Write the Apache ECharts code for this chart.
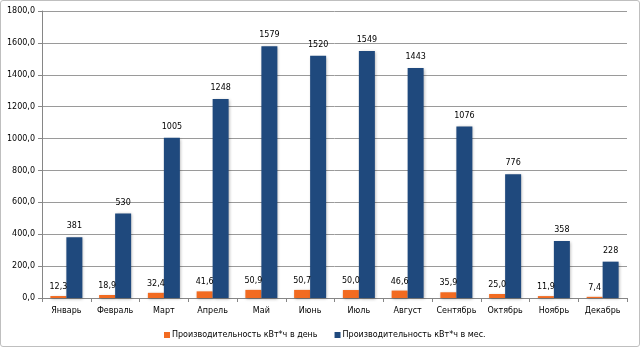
<!DOCTYPE html>
<html><head><meta charset="utf-8">
<script src="https://cdn.jsdelivr.net/npm/echarts@6/dist/echarts.min.js"></script>
<style>html,body{margin:0;padding:0;background:#fff}#c{width:640px;height:347px;box-sizing:border-box;border:1px solid #bfbfbf;border-radius:3px}</style>
</head><body><div id="c"></div>
<script>
const categories = ['Январь','Февраль','Март','Апрель','Май','Июнь','Июль','Август','Сентябрь','Октябрь','Ноябрь','Декабрь'];
const perDay = [12.3,18.9,32.4,41.6,50.9,50.7,50.0,46.6,35.9,25.0,11.9,7.4];
const perMonth = [381,530,1005,1248,1579,1520,1549,1443,1076,776,358,228];
const seriesNames = ['Производительность кВт*ч в день','Производительность кВт*ч в мес.'];
const font = 'DejaVu Sans';
const chart = echarts.init(document.getElementById('c'));
chart.setOption({
  animation:false,
  textStyle:{fontFamily:font},
  grid:{left:41,right:12,top:10,bottom:48,containLabel:false,outerBoundsMode:'none'},
  legend:{top:325,left:158,itemWidth:6,itemHeight:6,itemGap:17,icon:'rect',
    textStyle:{fontFamily:font,fontSize:8,color:'#000',padding:[0,0,0,-3]},data:seriesNames},
  xAxis:{type:'category',data:categories,
    axisLine:{lineStyle:{color:'#868686'}},
    axisTick:{show:true,length:4,lineStyle:{color:'#868686'}},
    axisLabel:{fontFamily:font,fontSize:8,color:'#000',margin:9,interval:0}},
  yAxis:{type:'value',min:0,max:1800,interval:200,
    axisLine:{show:true,lineStyle:{color:'#868686'}},
    axisTick:{show:true,length:4,lineStyle:{color:'#868686'}},
    splitLine:{lineStyle:{color:'#9a9a9a'}},
    axisLabel:{fontFamily:font,fontSize:8,color:'#000',margin:7,formatter:v=>v.toFixed(1).replace('.',',')}},
  series:[
    {name:seriesNames[0],type:'bar',data:perDay,barWidth:16,barGap:'0%',
     itemStyle:{color:'#f26b21',shadowBlur:3,shadowColor:'rgba(0,0,0,0.3)',shadowOffsetX:1,shadowOffsetY:1},
     label:{show:true,position:'top',distance:5,fontFamily:font,fontSize:8,color:'#000',
       formatter:p=>p.value.toFixed(1).replace('.',',')}},
    {name:seriesNames[1],type:'bar',data:perMonth,barWidth:16,
     itemStyle:{color:'#1f497d',shadowBlur:3,shadowColor:'rgba(0,0,0,0.3)',shadowOffsetX:1,shadowOffsetY:1},
     label:{show:true,position:'top',distance:7,fontFamily:font,fontSize:8,color:'#000'}}
  ]
});
</script></body></html>
